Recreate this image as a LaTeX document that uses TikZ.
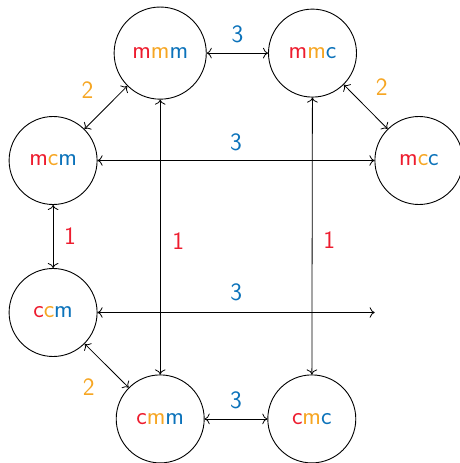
\documentclass[tikz,border=0pt]{standalone}
\usepackage{fontspec}
\usetikzlibrary{arrows.meta}
\definecolor{cred}{HTML}{ED1C2E}
\definecolor{corange}{HTML}{F6A623}
\definecolor{cblue}{HTML}{0B72BA}
\newcommand{\rd}[1]{\textcolor{cred}{#1}}
\newcommand{\og}[1]{\textcolor{corange}{#1}}
\newcommand{\bl}[1]{\textcolor{cblue}{#1}}
\begin{document}
\begin{tikzpicture}[x=1pt,y=-1pt,
  state/.style={circle,draw,line width=0.9pt,minimum size=88pt,inner sep=14pt,
    font=\sffamily\fontsize{25}{30}\selectfont},
  ghost/.style={circle,minimum size=88pt,inner sep=0pt},
  link/.style={{To[scale=1.5]}-{To[scale=1.5]},line width=0.8pt},
  lab/.style={font=\sffamily\fontsize{25}{30}\selectfont,inner sep=0pt}]
\useasboundingbox (0,0) rectangle (460,463);
\node[state] (mmm) at (160.2,53.1) {\rd{m}\og{m}\bl{m}};
\node[state] (mmc) at (312.5,53.1) {\rd{m}\og{m}\bl{c}};
\node[state] (mcm) at (53.1,160.5) {\rd{m}\og{c}\bl{m}};
\node[state] (mcc) at (418.9,160.5) {\rd{m}\og{c}\bl{c}};
\node[state] (ccm) at (53.1,312.5) {\rd{c}\og{c}\bl{m}};
\node[ghost] (ccc) at (418.9,312.5) {};
\node[state] (cmm) at (160.2,418.9) {\rd{c}\og{m}\bl{m}};
\node[state] (cmc) at (311.8,418.9) {\rd{c}\og{m}\bl{c}};
\draw[link] (mmm) -- node[lab,midway,shift={(0,-19)},text=cblue] {3} (mmc);
\draw[link] (mcm) -- node[lab,midway,shift={(0,-18)},text=cblue] {3} (mcc);
\draw[link] (ccm) -- node[lab,midway,shift={(0,-20)},text=cblue] {3} (ccc);
\draw[link] (cmm) -- node[lab,midway,shift={(0,-19)},text=cblue] {3} (cmc);
\draw[link] (mmm) -- node[lab,midway,shift={(-18.5,-17.5)},text=corange] {2} (mcm);
\draw[link] (mmc) -- node[lab,midway,shift={(16,-19.5)},text=corange] {2} (mcc);
\draw[link] (ccm) -- node[lab,midway,shift={(-18,21)},text=corange] {2} (cmm);
\draw[link] (mcm) -- node[lab,midway,shift={(17,0)},text=cred] {1} (ccm);
\draw[link] (mmm) -- node[lab,midway,shift={(18,4)},text=cred] {1} (cmm);
\draw[link] (mmc) -- node[lab,midway,shift={(17,4)},text=cred] {1} (cmc);
\end{tikzpicture}
\end{document}
